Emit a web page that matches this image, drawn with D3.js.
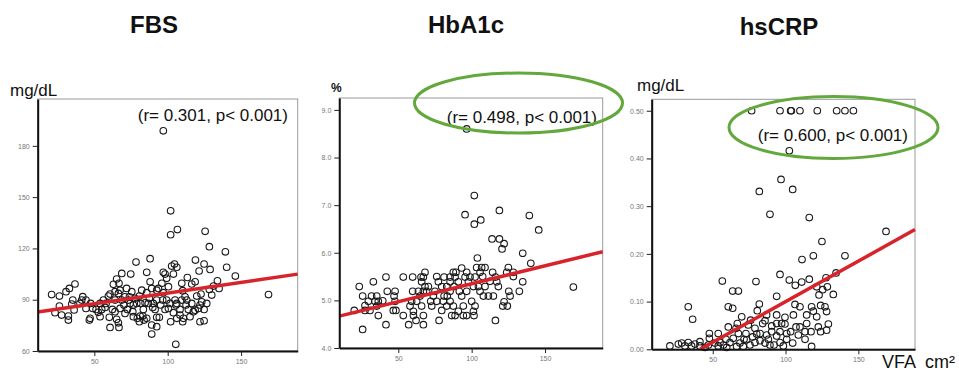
<!DOCTYPE html>
<html>
<head>
<meta charset="utf-8">
<script src="https://cdn.jsdelivr.net/npm/d3@7"></script>
<style>
  body { margin: 0; background: #fff; }
  text { font-family: "Liberation Sans", Arial, sans-serif; }
</style>
</head>
<body>
<script>
const titles = ['FBS', 'HbA1c', 'hsCRP'];
const units = ['mg/dL', '%', 'mg/dL'];
const statLabels = ['(r= 0.301, p< 0.001)', '(r= 0.498, p< 0.001)', '(r= 0.600, p< 0.001)'];
const xTicks = [50, 100, 150];
const yTicksFbs = [60, 90, 120, 150, 180];
const yTicksHba1c = [4, 5, 6, 7, 8, 9];
const yTicksCrp = [0, 0.1, 0.2, 0.3, 0.4, 0.5];

// FBS vs VFA
const fbsVfa = [97,102,102,106.6,125.5,128.4,139.3,140.2,146.1,168.7,78.4,88,85.7,102.7,104.6,106.2,103.9,97,98.2,118.9,
  124.8,121.4,128.9,113.4,118.7,133.9,135,128.4,122.7,109.6,93.7,88,74.8,68.7,65.2,66.8,63,20.9,26.2,33,
  30.7,36.8,42.1,41.4,35.3,34.6,26.2,23.2,27.7,32.3,32.3,36.2,47.1,46.6,47.5,48.9,52.7,55,58,59.6,
  60.7,62.3,60.2,60.7,65.2,66.4,66.8,64.1,67.5,66.4,70.9,73.2,70.2,72.5,75.5,76.6,78.9,76.6,79.3,80.7,
  83,81.6,84.6,83.4,82.3,85.7,89.1,87.5,90.2,92.5,91.4,92.5,94.3,89.1,89.1,97,99.3,101.6,98.2,102,
  105,106.2,105.7,108.4,110.2,110.7,105.5,113,114.1,116.4,117.5,119.8,122,120.9,123.2,124.8,126.6,122,124.8,116.4,
  110.2,72,56.2,53.9,44.3,51.2,85.7,92.5,83.9,81.2,74.3,67.5,64.1,57.3,100.5,96,99.3,92.5,111.8,108.4,
  115.2,118.7,64.1,68.7,73.9,77.7,80.7,86.8,89.8,95.2,96.6,100.5,103.9,106.2,112.5,109.6,70.9,76.2,53.9,40.2,
  44.3,131.2,130];
const fbsVal = [188.8,142,128,131,130,121,118,109,103.8,93,112,114,106,109.7,110.9,109,105,106,105,113.2,
  110.9,106.8,107.7,103,100.5,101.1,96.6,96,93.3,99.6,96.6,100.5,105,105.4,102.1,99.6,99,93,92.1,96.6,
  94.7,99.2,91.8,89.8,89.8,87.5,86.3,82.4,81,80.4,78.1,84,79.1,78.1,87.8,84.9,82.6,84.3,87.8,92.1,
  93.3,84.3,79.7,73.8,78.5,76.5,73.8,89.8,95.6,93.7,91.7,89.8,86.9,84.3,94.7,86.9,87.8,80.1,79.1,77.1,
  80.4,87.8,88.2,84.3,95.6,94.1,96.6,90.8,87.8,89.8,84.3,79.7,79.7,75.2,69.9,94.1,89.8,87.8,84.3,77.1,
  89.8,87.8,86.9,84.3,77.1,79.1,63.9,89.8,84.3,87.8,83,92.1,86.9,84.9,88.8,84.3,87.8,77.1,77.7,99.2,
  95.3,96.6,89.8,87.8,84.9,84.3,79.1,74.2,78.1,80.4,87.8,84.9,83,85.5,97.6,99.6,102.5,95.6,91.7,81,
  80.1,83.9,94.7,89.8,91.7,90.8,92.1,87.8,85.5,86.9,89.8,84.9,82.4,79.1,86.9,89.8,82,83,80.1,87.8,
  89.8,98,92.7];

// HbA1c vs VFA
const hbaVfa = [96.6,101.8,95.5,101.8,106.2,118.9,139.3,145.7,113.9,118.9,122.1,120.7,134.8,140.3,103.9,169.3,103.4,106.8,109.1,105.7,
  107.5,114.3,116.2,112.5,118.2,123.9,125,128.4,128.4,134.8,132.5,125.3,126.2,122.1,124.3,121.2,116.2,111.4,108,105.7,
  101.2,97.8,95.5,98.9,102.3,96.6,93.2,100,102.3,101.2,94.3,90.9,96.6,101.6,94.3,86.4,88.7,87.5,89.3,85.3,
  88.7,90.9,85.3,83,88,91.6,85.3,81.2,83.4,80.7,85.3,87.5,83,79.6,77.8,76.2,77.3,75,73.9,72.1,
  72.8,70.5,68.2,69.3,67.1,68.2,67.1,65.9,63.7,64.8,62.5,65.9,67.1,59.8,59.1,58,60.3,60.3,62.1,57.1,
  67.1,65.5,59.8,53.4,53.4,47.8,47.1,47.8,46.6,48.4,42.5,41.6,41.6,39.4,36.4,35.3,34.1,35.3,36.4,33,
  31.8,29.6,30.7,27.3,25.7,23.4,27.3,25.7,20,81.2,79.6,76.2,93.2,96.6,109.1,114.8,117.1,104.6];
const hbaVal = [8.6,7.2,6.8,6.6,6.69,6.89,6.78,6.48,6.29,6.29,6.19,6.08,5.99,5.78,5.89,5.28,5.69,5.69,5.69,5.59,
  5.5,5.59,5.49,5.4,5.29,5.59,5.69,5.5,5.59,5.39,5.19,5.19,5.09,4.97,4.88,4.88,4.58,5.09,5.09,5.19,
  5.29,5.39,5.49,5.49,5.49,5.19,5.09,4.98,4.88,4.77,4.88,4.77,4.68,4.68,4.68,4.68,4.68,5.59,5.59,5.49,
  5.49,5.39,5.39,5.29,5.29,5.19,5.19,5.09,5.09,4.98,4.98,4.88,4.88,4.79,4.58,5.5,5.39,5.19,5.09,4.98,
  4.88,5.29,5.29,5.19,5.19,5.59,5.49,5.39,5.19,5.09,4.98,4.88,4.68,5.19,4.98,4.88,4.77,4.68,4.58,4.49,
  4.49,5.49,5.49,5.49,4.68,5.19,5.09,4.98,4.79,4.79,5.19,5.49,4.49,4.99,4.98,5.09,4.98,4.88,4.68,5.39,
  5.09,4.98,4.79,4.79,5.09,5.29,4.89,4.39,4.79,5.49,5.29,4.98,5.68,5.59,5.29,5.09,5.39,5.29];

// hsCRP vs VFA
const crpVfa = [76.7,96.2,103.5,104,109.9,121.8,135.1,140.8,146.6,102.6,96.9,82,104.9,89.3,116.3,169,125,119.1,140.8,111.3,
  96.2,56.6,79.7,102.6,106.7,111.1,116.3,127.8,134.7,128.7,125.5,121.4,132.8,123,63.7,67.6,93.9,33.2,60.7,63.7,
  36.2,82,80.6,85.9,87,93.9,99.6,105.4,106.5,109.9,114.5,117.9,119.1,121.4,124.1,127.1,128.2,122.5,124.1,129.4,
  114.5,113.4,117.5,113.4,117.9,107.2,103.5,100.8,104.9,99.6,96.2,93.9,90.5,88.2,85.9,89.3,92.1,96.2,98.5,84.3,
  82.5,79,77.4,79,75.6,72.8,71.5,68.7,67.6,66,66.9,64.1,61.8,59.1,57.3,55,53.8,47.7,47.7,47,
  53.8,41.2,41.2,35.5,33.2,30.9,26.4,28.7,20.6,37.8,44.7,74.4,76,69.9,60.7,73.3,82.5,87,90.5,100.8,
  108.8,109.9,97.3,93.9,80.2,66.4,71,59.6,51.5,128.2];
const crpVal = [0.5,0.5,0.5,0.5,0.5,0.5,0.5,0.5,0.5,0.416,0.356,0.331,0.335,0.283,0.276,0.247,0.226,0.196,0.196,0.188,
  0.157,0.143,0.142,0.145,0.134,0.141,0.147,0.15,0.16,0.131,0.125,0.131,0.115,0.114,0.122,0.122,0.111,0.089,0.089,0.086,
  0.063,0.095,0.081,0.06,0.072,0.072,0.067,0.072,0.094,0.089,0.072,0.089,0.08,0.068,0.092,0.089,0.079,0.047,0.037,0.053,
  0.054,0.037,0.037,0.021,0.006,0.047,0.037,0.021,0.013,0.053,0.037,0.028,0.037,0.021,0.013,0.009,0.009,0.014,0.007,0.054,
  0.033,0.044,0.026,0.014,0.009,0.033,0.021,0.013,0.033,0.044,0.054,0.023,0.014,0.021,0.009,0.014,0.033,0.033,0.023,0.009,
  0.007,0.016,0.007,0.007,0.014,0.007,0.011,0.013,0.007,0.011,0.004,0.051,0.061,0.068,0.047,0.02,0.018,0.03,0.049,0.033,
  0.03,0.047,0.054,0.054,0.032,0.006,0.006,0.004,0.013,0.04];

// regression lines: [intercept, slope]
const fitFbs = [81.4, 0.125];
const fitHba1c = [4.595, 0.00754];
const fitCrp = [-0.0702, 0.0017];

const panels = [
  { vfa: fbsVfa, val: fbsVal, fit: fitFbs, yTicks: yTicksFbs, fmt: d3.format('d'),
    xDomain: [11.4, 188.6], yDomain: [60, 207.4], left: 37.7, right: 297.7, top: 99, bottom: 351,
    titleX: 154, titleY: 33, unitX: 10, unitY: 96, unitSize: 17, statX: 288, statY: 121 },
  { vfa: hbaVfa, val: hbaVal, fit: fitHba1c, yTicks: yTicksHba1c, fmt: d3.format('.1f'),
    xDomain: [9.8, 189.3], yDomain: [4, 9.25], left: 339.3, right: 602.7, top: 98, bottom: 348,
    titleX: 466, titleY: 33, unitX: 331, unitY: 92, unitSize: 12, statX: 597, statY: 123,
    ellipse: { cx: 518.5, cy: 103, rx: 104, ry: 30 } },
  { vfa: crpVfa, val: crpVal, fit: fitCrp, yTicks: yTicksCrp, fmt: d3.format('.2f'),
    xDomain: [8.1, 188.9], yDomain: [0, 0.524], left: 651.7, right: 915, top: 99.3, bottom: 349.3,
    titleX: 779, titleY: 35, unitX: 637, unitY: 91, unitSize: 17, statX: 908, statY: 141,
    ellipse: { cx: 833.5, cy: 127.5, rx: 104.5, ry: 31 } }
];

const svg = d3.select('body').append('svg')
  .attr('width', 959)
  .attr('height', 374);

panels.forEach((p, i) => {
  const x = d3.scaleLinear().domain(p.xDomain).range([p.left, p.right]);
  const y = d3.scaleLinear().domain(p.yDomain).range([p.bottom, p.top]);
  const g = svg.append('g');

  g.append('rect')
    .attr('x', p.left).attr('y', p.top)
    .attr('width', p.right - p.left).attr('height', p.bottom - p.top)
    .attr('fill', 'none').attr('stroke', '#9a9a9a').attr('stroke-width', 1);

  g.selectAll('circle')
    .data(d3.zip(p.vfa, p.val))
    .join('circle')
    .attr('cx', d => x(d[0]))
    .attr('cy', d => y(d[1]))
    .attr('r', 3.3)
    .attr('fill', 'none')
    .attr('stroke', '#1a1a1a')
    .attr('stroke-width', 1.1);

  // fitted line, clipped to the bottom of the plot
  const [a, b] = p.fit;
  const x0 = Math.max(p.xDomain[0], (p.yDomain[0] - a) / b);
  const x1 = p.xDomain[1];
  g.append('line')
    .attr('x1', x(x0)).attr('y1', y(a + b * x0))
    .attr('x2', x(x1)).attr('y2', y(a + b * x1))
    .attr('stroke', '#d8232a')
    .attr('stroke-width', 3.5);

  const yAxis = g.append('g')
    .attr('transform', `translate(${p.left},0)`)
    .call(d3.axisLeft(y).tickValues(p.yTicks).tickFormat(p.fmt).tickSize(5).tickSizeOuter(0));
  const xAxis = g.append('g')
    .attr('transform', `translate(0,${p.bottom})`)
    .call(d3.axisBottom(x).tickValues(xTicks).tickSize(5).tickSizeOuter(0));
  [yAxis, xAxis].forEach(ax => {
    ax.select('.domain').attr('stroke', '#111').attr('stroke-width', 2);
    ax.selectAll('.tick line').attr('stroke', '#222');
    ax.selectAll('.tick text')
      .attr('fill', '#777')
      .style('font-size', '7px');
  });

  svg.append('text')
    .attr('x', p.titleX).attr('y', p.titleY)
    .attr('text-anchor', 'middle')
    .style('font-size', '24px')
    .style('font-weight', 'bold')
    .attr('fill', '#111')
    .text(titles[i]);

  svg.append('text')
    .attr('x', p.unitX).attr('y', p.unitY)
    .style('font-size', p.unitSize + 'px')
    .style('font-weight', i === 1 ? 'bold' : 'normal')
    .attr('fill', '#111')
    .text(units[i]);

  svg.append('text')
    .attr('x', p.statX).attr('y', p.statY)
    .attr('text-anchor', 'end')
    .style('font-size', '17px')
    .attr('fill', '#111')
    .text(statLabels[i]);

  if (p.ellipse) {
    svg.append('ellipse')
      .attr('cx', p.ellipse.cx).attr('cy', p.ellipse.cy)
      .attr('rx', p.ellipse.rx).attr('ry', p.ellipse.ry)
      .attr('fill', 'none')
      .attr('stroke', '#62a83c')
      .attr('stroke-width', 3);
  }
});

svg.append('text')
  .attr('x', 955).attr('y', 368)
  .attr('text-anchor', 'end')
  .style('font-size', '18px')
  .attr('fill', '#111')
  .attr('xml:space', 'preserve')
  .text('VFA  cm²');
</script>
</body>
</html>
